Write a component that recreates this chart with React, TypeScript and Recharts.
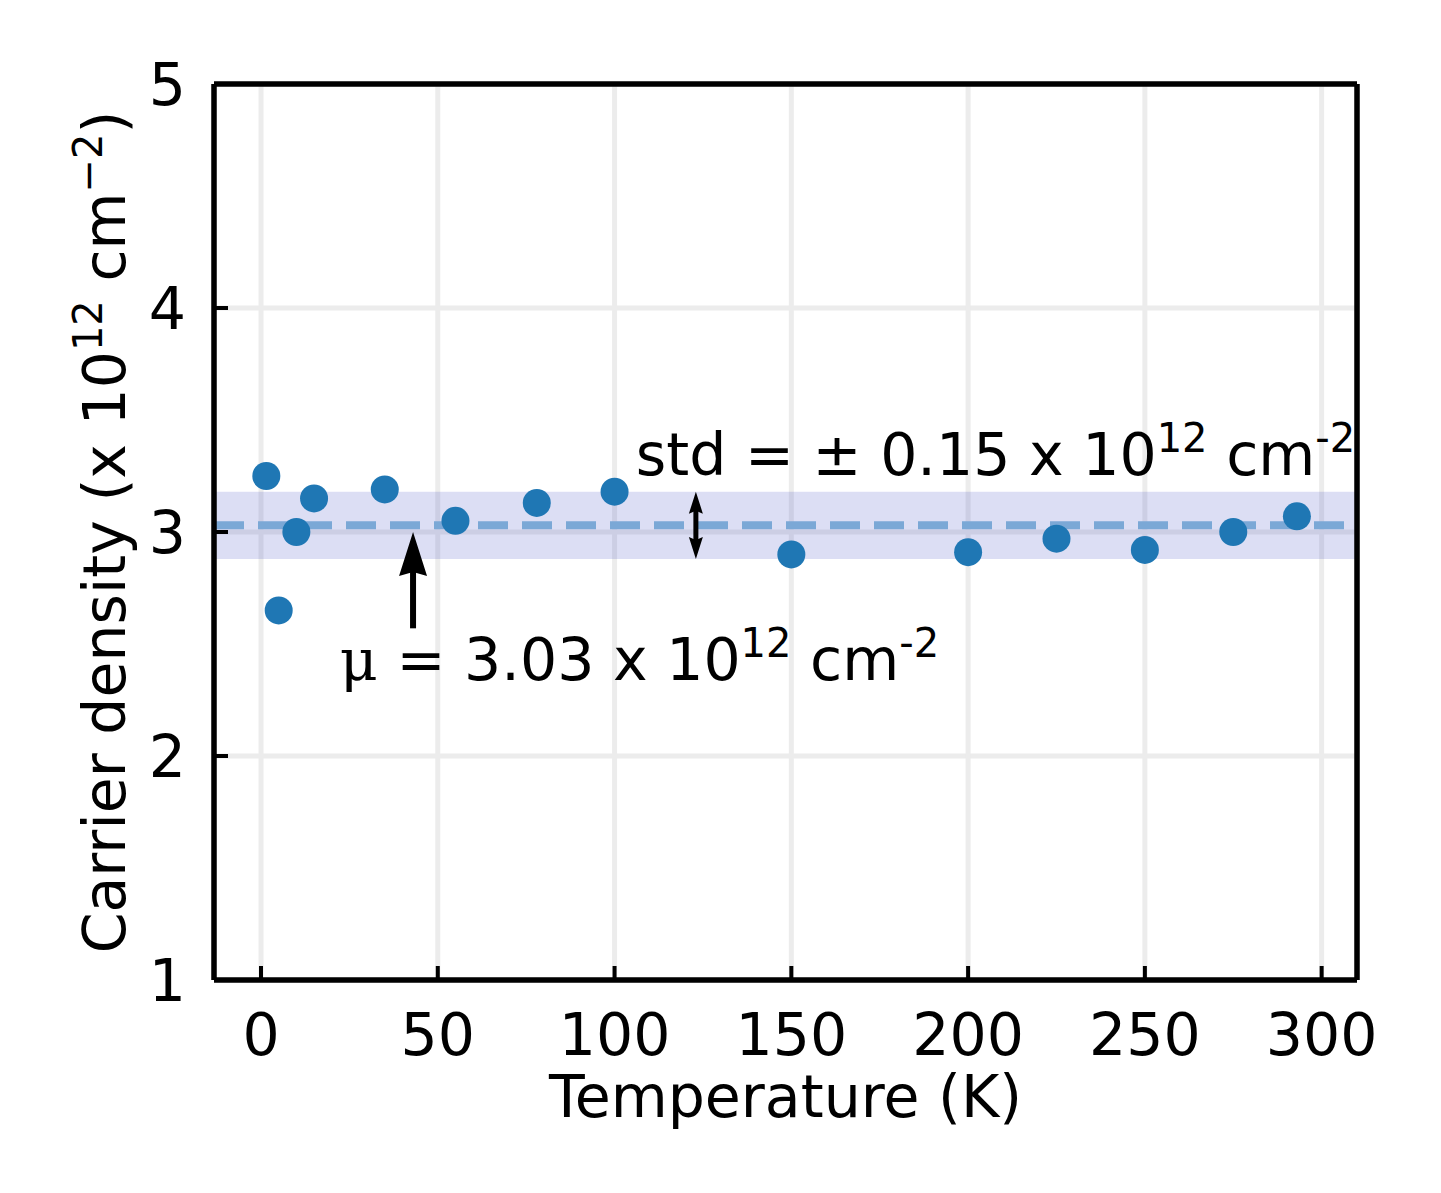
import React from "react";
import {
  ScatterChart,
  Scatter,
  XAxis,
  YAxis,
  CartesianGrid,
  ReferenceArea,
  ReferenceLine,
  ReferenceDot,
} from "recharts";

const temperatures = [1.5, 5, 10, 15, 35, 55, 78, 100, 150, 200, 225, 250, 275, 293];
const densities = [3.25, 2.65, 3.0, 3.15, 3.19, 3.05, 3.13, 3.18, 2.9, 2.91, 2.97, 2.92, 3.0, 3.07];
const xTicks = [0, 50, 100, 150, 200, 250, 300];
const yTicks = [1, 2, 3, 4, 5];
const meanValue = 3.03;
const stdValue = 0.15;

const FONT = "'DejaVu Sans', sans-serif";
const FS = 58.5;
const SUP = 40;
const BLUE = "#1f77b4";

const points = temperatures.map((t, i) => ({ t, n: densities[i] }));

const Dot = (p: any) => <circle cx={p.cx} cy={p.cy} r={14} fill={BLUE} />;

// arrow drawn between the two ends of a reference segment
const MeanArrow = (p: any) => {
  const { x1, y1, y2 } = p;
  const x = x1;
  const tip = Math.min(y1, y2);
  const tail = Math.max(y1, y2);
  const headLen = 44;
  return (
    <g>
      <line x1={x} x2={x} y1={tail} y2={tip + headLen - 4} stroke="#000" strokeWidth={6} />
      <polygon points={`${x},${tip} ${x - 14},${tip + headLen} ${x},${tip + headLen - 4} ${x + 14},${tip + headLen}`} fill="#000" />
    </g>
  );
};

const StdArrow = (p: any) => {
  const { x1, y1, y2 } = p;
  const x = x1;
  const top = Math.min(y1, y2);
  const bot = Math.max(y1, y2);
  const h = 22;
  return (
    <g>
      <line x1={x} x2={x} y1={top + h - 4} y2={bot - h + 4} stroke="#000" strokeWidth={5} />
      <polygon points={`${x},${top} ${x - 7},${top + h} ${x},${top + h - 3} ${x + 7},${top + h}`} fill="#000" />
      <polygon points={`${x},${bot} ${x - 7},${bot - h} ${x},${bot - h + 3} ${x + 7},${bot - h}`} fill="#000" />
    </g>
  );
};

const StdText = (p: any) => (
  <text x={p.cx} y={p.cy} fontFamily={FONT} fontSize={FS} fill="#000">
    std = ± 0.15 x 10
    <tspan fontSize={SUP} dy={-23}>12</tspan>
    <tspan dy={23}> cm</tspan>
    <tspan fontSize={SUP} dy={-23}>-2</tspan>
  </text>
);

const MuText = (p: any) => (
  <text x={p.cx} y={p.cy} fontFamily={FONT} fontSize={FS} fill="#000">
    <tspan fontFamily="'DejaVu Serif', serif">μ</tspan> = 3.03 x 10
    <tspan fontSize={SUP} dy={-23}>12</tspan>
    <tspan dy={23}> cm</tspan>
    <tspan fontSize={SUP} dy={-23}>-2</tspan>
  </text>
);

const YLabel = (p: any) => {
  const vb = p.viewBox || {};
  const cy = vb.y + vb.height / 2;
  const x = 125;
  return (
    <text
      x={x}
      y={cy}
      transform={`rotate(-90 ${x} ${cy})`}
      textAnchor="middle"
      fontFamily={FONT}
      fontSize={FS}
      fill="#000"
    >
      Carrier density (x 10
      <tspan fontSize={SUP} dy={-23}>12</tspan>
      <tspan dy={23}> cm</tspan>
      <tspan fontSize={SUP} dy={-23}>−2</tspan>
      <tspan dy={23}>)</tspan>
    </text>
  );
};

const XLabel = (p: any) => {
  const vb = p.viewBox || {};
  const cx = vb.x + vb.width / 2;
  return (
    <text x={cx} y={1117} textAnchor="middle" fontFamily={FONT} fontSize={FS} fill="#000">
      Temperature (K)
    </text>
  );
};

const tickStyle = { fontFamily: FONT, fontSize: FS, fill: "#000" };
const axisLineStyle = { stroke: "#000", strokeWidth: 5.5 };
const tickLineStyle = { stroke: "#000", strokeWidth: 4 };

export default function App() {
  return (
    <div style={{ width: 1441, height: 1193, background: "#fff" }}>
      <style>{`body{margin:0}`}</style>
      <ScatterChart
        width={1441}
        height={1193}
        margin={{ top: 34, right: 34, bottom: 153, left: 154 }}
      >
        <CartesianGrid xAxisId="b" yAxisId="l" stroke="#ececec" strokeWidth={5} />
        <XAxis
          xAxisId="b"
          type="number"
          dataKey="t"
          domain={[-13.3, 310]}
          ticks={xTicks}
          allowDataOverflow
          height={60}
          tick={tickStyle}
          tickSize={-14}
          tickMargin={47}
          axisLine={axisLineStyle}
          tickLine={tickLineStyle}
          label={<XLabel />}
        />
        <XAxis
          xAxisId="t"
          orientation="top"
          type="number"
          dataKey="t"
          domain={[-13.3, 310]}
          ticks={xTicks}
          allowDataOverflow
          height={50}
          tick={false}
          tickSize={-14}
          axisLine={axisLineStyle}
          tickLine={tickLineStyle}
        />
        <YAxis
          yAxisId="l"
          type="number"
          dataKey="n"
          domain={[1, 5]}
          ticks={yTicks}
          allowDataOverflow
          width={60}
          tick={tickStyle}
          tickSize={-14}
          tickMargin={42}
          axisLine={axisLineStyle}
          tickLine={tickLineStyle}
          label={<YLabel />}
        />
        <YAxis
          yAxisId="r"
          orientation="right"
          type="number"
          dataKey="n"
          domain={[1, 5]}
          ticks={yTicks}
          allowDataOverflow
          width={50}
          tick={false}
          tickSize={-14}
          axisLine={axisLineStyle}
          tickLine={tickLineStyle}
        />
        <ReferenceArea
          xAxisId="b"
          yAxisId="l"
          y1={meanValue - stdValue}
          y2={meanValue + stdValue}
          fill="#505ac8"
          fillOpacity={0.2}
          stroke="none"
        />
        <ReferenceLine
          xAxisId="b"
          yAxisId="l"
          y={meanValue}
          stroke="#7ba8d6"
          strokeWidth={8}
          strokeDasharray="30 14"
        />
        <ReferenceLine
          xAxisId="b"
          yAxisId="l"
          segment={[
            { x: 43, y: 2.57 },
            { x: 43, y: 3.0 },
          ]}
          shape={<MeanArrow />}
        />
        <ReferenceLine
          xAxisId="b"
          yAxisId="l"
          segment={[
            { x: 123, y: meanValue - stdValue },
            { x: 123, y: meanValue + stdValue },
          ]}
          shape={<StdArrow />}
        />
        <Scatter
          xAxisId="b"
          yAxisId="l"
          data={points}
          shape={<Dot />}
          isAnimationActive={false}
        />
        <ReferenceDot xAxisId="b" yAxisId="l" x={106} y={3.254} shape={<StdText />} />
        <ReferenceDot xAxisId="b" yAxisId="l" x={22.3} y={2.34} shape={<MuText />} />
      </ScatterChart>
    </div>
  );
}
